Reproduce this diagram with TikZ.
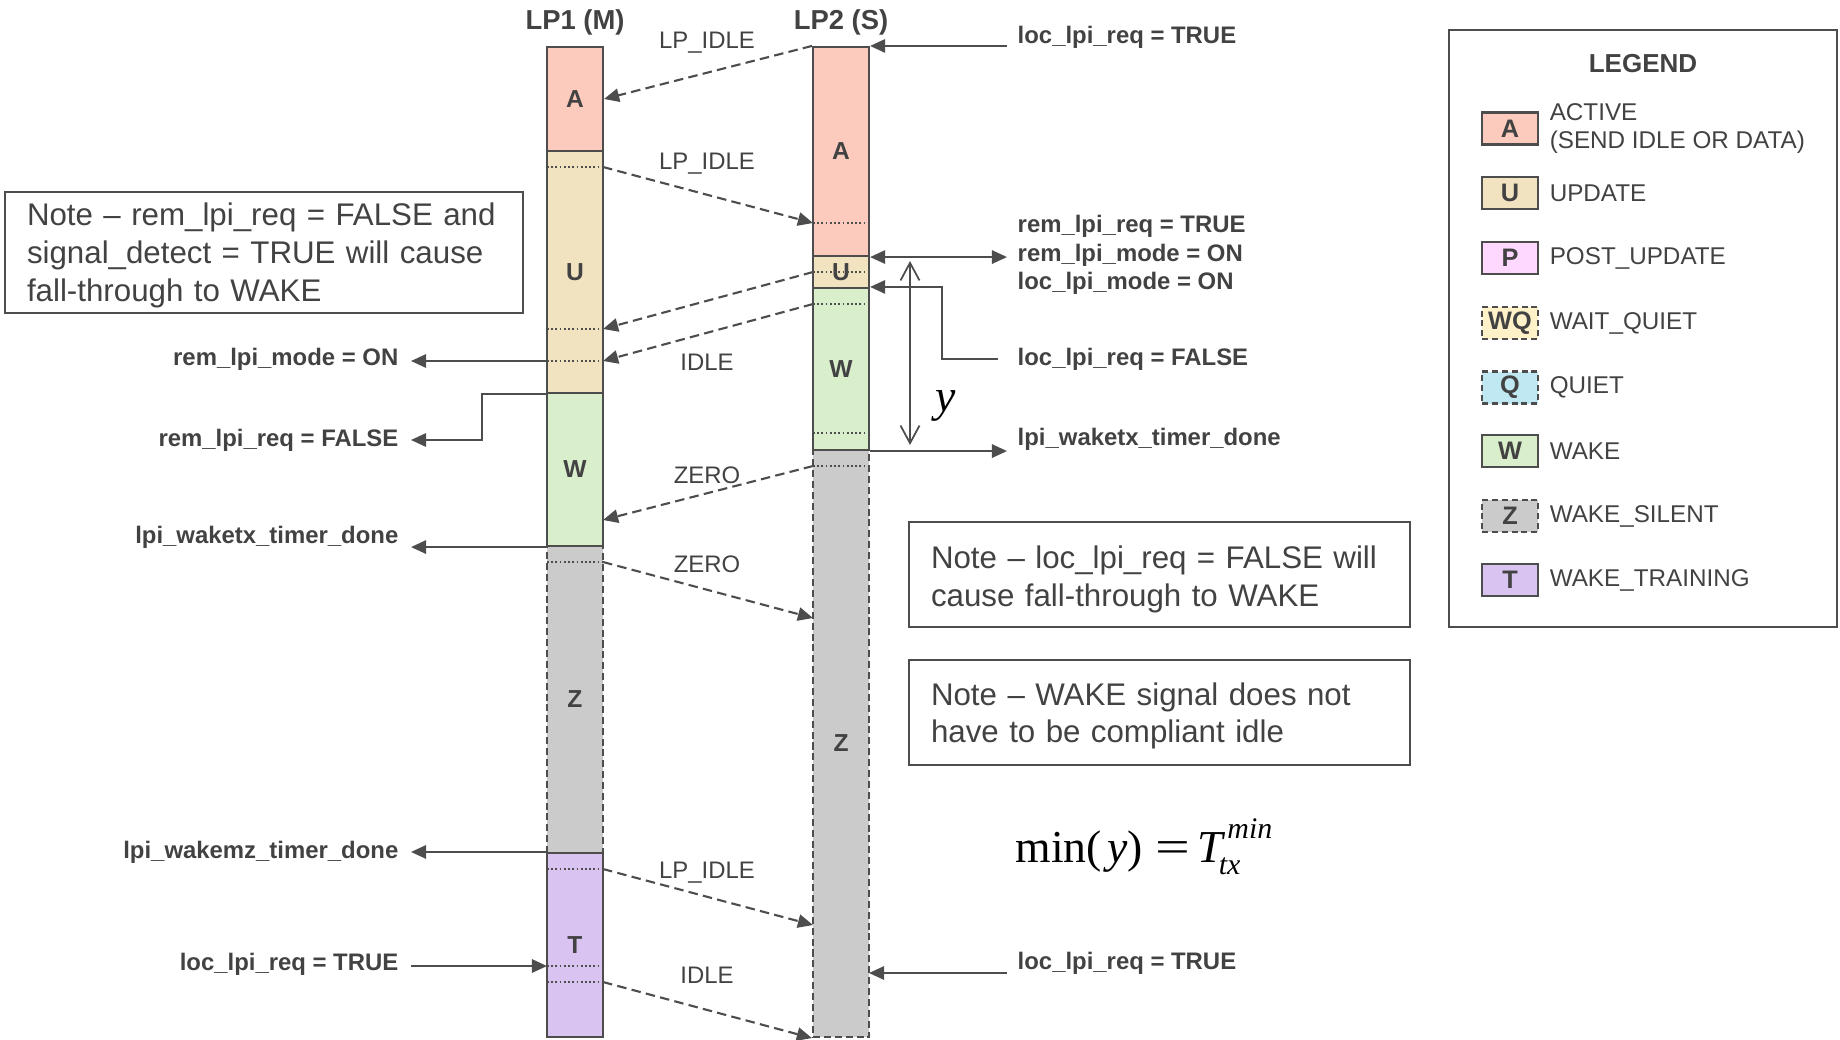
\documentclass[tikz,border=0pt]{standalone}
\usepackage{fontspec}
\setmainfont{Liberation Sans}
\newfontfamily\timesfont{Liberation Serif}
\usetikzlibrary{positioning,arrows.meta,calc}
\usepackage{xcolor}
\definecolor{ink}{RGB}{77,77,77}
\definecolor{txt}{RGB}{66,66,66}
\definecolor{stA}{RGB}{252,203,189}
\definecolor{stU}{RGB}{242,227,192}
\definecolor{stP}{RGB}{255,216,255}
\definecolor{stWQ}{RGB}{255,242,200}
\definecolor{stQ}{RGB}{192,232,242}
\definecolor{stW}{RGB}{217,239,204}
\definecolor{stZ}{RGB}{203,203,203}
\definecolor{stT}{RGB}{216,195,241}
\tikzset{
  seg/.style     = {draw=ink, line width=0.6pt, minimum width=0.56cm, inner sep=0pt,
                    text=txt, font=\fontsize{7}{8}\selectfont\bfseries},
  segq/.style    = {seg, dash pattern=on 2pt off 1.1pt},
  swatch/.style  = {draw=ink, line width=0.6pt, minimum width=0.56cm, minimum height=0.32cm,
                    inner sep=0pt, text=txt, font=\fontsize{7.2}{8}\selectfont\bfseries},
  swatchq/.style = {swatch, dash pattern=on 1.7pt off 1.1pt},
  keytxt/.style  = {inner sep=0pt, text=txt, align=left, font=\fontsize{6.9}{8.2}\selectfont},
  dotline/.style = {draw=ink, line width=0.35pt, dash pattern=on 0.5pt off 0.7pt},
  msg/.style     = {draw=ink, line width=0.6pt, dash pattern=on 2.7pt off 1.5pt,
                    -{Triangle[length=4.3pt,width=3.8pt]}},
  sig/.style     = {draw=ink, line width=0.6pt, -{Triangle[length=4.3pt,width=3.8pt]}},
  sigboth/.style = {sig, {Triangle[length=4.3pt,width=3.8pt]}-{Triangle[length=4.3pt,width=3.8pt]}},
  dimline/.style = {draw=ink, line width=0.5pt,
                    {Straight Barb[length=5pt,width=5.4pt]}-{Straight Barb[length=5pt,width=5.4pt]}},
  msglbl/.style  = {inner sep=0pt, text=txt, font=\fontsize{6.8}{8}\selectfont},
  sigl/.style    = {anchor=east, inner ysep=0pt, inner xsep=0.12cm, text=txt,
                    font=\fontsize{6.8}{8}\selectfont\bfseries},
  sigr/.style    = {anchor=west, inner ysep=0pt, inner xsep=0.1cm, text=txt, align=left,
                    font=\fontsize{6.8}{8.1}\selectfont\bfseries},
  colhead/.style = {inner sep=0pt, text=txt, font=\fontsize{7.8}{9}\selectfont\bfseries},
  notebox/.style = {draw=ink, line width=0.6pt, inner xsep=0.22cm, inner ysep=0pt,
                    align=left, text=txt}
}
% one state of a lane: name, x, top, bottom, style, letter
\newcommand{\stseg}[6]{%
  \pgfmathsetmacro{\segmid}{(#3+#4)/2}%
  \pgfmathsetmacro{\seglen}{#4-#3}%
  \node[#5, minimum height=\seglen cm] (#1) at (#2,\segmid) {#6};}
\newcommand{\scrtxt}[1]{{\fontsize{8.5}{9}\selectfont\itshape #1}}

\begin{document}
\begin{tikzpicture}[x=1cm,y=-1cm]
\useasboundingbox (0,0) rectangle (18.40,10.39);

% --- lane headings --------------------------------------------------------
\node[colhead] (lp1) at (5.75,0.225) {LP1 (M)};
\node[colhead] (lp2) at (8.41,0.225) {LP2 (S)};

% --- LP1 states (dashed ones first, solid edges stay on top) --------------
\stseg{z1}{5.75}{5.46}{8.53}{segq, fill=stZ}{Z}
\stseg{a1}{5.75}{0.47}{1.51}{seg, fill=stA}{A}
\stseg{u1}{5.75}{1.51}{3.93}{seg, fill=stU}{U}
\stseg{w1}{5.75}{3.93}{5.46}{seg, fill=stW}{W}
\stseg{t1}{5.75}{8.53}{10.37}{seg, fill=stT}{T}

% --- LP2 states -----------------------------------------------------------
\stseg{z2}{8.41}{4.50}{10.37}{segq, fill=stZ}{Z}
\stseg{a2}{8.41}{0.47}{2.56}{seg, fill=stA}{A}
\stseg{u2}{8.41}{2.56}{2.88}{seg, fill=stU}{U}
\stseg{w2}{8.41}{2.88}{4.50}{seg, fill=stW}{W}

% --- dotted instants inside the lanes -------------------------------------
\draw[dotline] (5.47,1.67) coordinate (u1al) -- (6.03,1.67) coordinate (u1a);
\draw[dotline] (5.47,3.29) coordinate (u1bl) -- (6.03,3.29) coordinate (u1b);
\draw[dotline] (5.47,3.61) coordinate (u1cl) -- (6.03,3.61) coordinate (u1c);
\draw[dotline] (5.47,5.62) coordinate (z1al) -- (6.03,5.62) coordinate (z1a);
\draw[dotline] (5.47,8.69) coordinate (t1al) -- (6.03,8.69) coordinate (t1a);
\draw[dotline] (5.47,9.66) coordinate (t1bl) -- (6.03,9.66) coordinate (t1b);
\draw[dotline] (5.47,9.82) coordinate (t1cl) -- (6.03,9.82) coordinate (t1c);
\draw[dotline] (8.13,2.23) coordinate (a2al) -- (8.69,2.23);
\draw[dotline] (8.13,2.72) coordinate (u2al) -- (8.69,2.72);
\draw[dotline] (8.13,3.04) coordinate (w2al) -- (8.69,3.04);
\draw[dotline] (8.13,4.33) coordinate (w2bl) -- (8.69,4.33);
\draw[dotline] (8.13,4.66) coordinate (z2al) -- (8.69,4.66);

% --- what goes over the wire ----------------------------------------------
\coordinate (w1c) at (6.03,5.20);
\coordinate (z2b) at (8.13,6.18);
\coordinate (z2d) at (8.13,9.25);
\draw[msg] (a2.north west) -- (a1.east);
\draw[msg] (u1a) -- (a2al);
\draw[msg] (u2al) -- (u1b);
\draw[msg] (w2al) -- (u1c);
\draw[msg] (z2al) -- (w1c);
\draw[msg] (z1a) -- (z2b);
\draw[msg] (t1a) -- (z2d);
\draw[msg] (t1c) -- (z2.south west);

\node[msglbl] (m1) at (7.07,0.43) {LP\_IDLE};
\node[msglbl] (m2) at (7.07,1.64) {LP\_IDLE};
\node[msglbl] (m3) at (7.07,3.62) {IDLE};
\node[msglbl] (m4) at (7.07,4.75) {ZERO};
\node[msglbl] (m5) at (7.07,5.64) {ZERO};
\node[msglbl] (m6) at (7.07,8.73) {LP\_IDLE};
\node[msglbl] (m7) at (7.07,9.75) {IDLE};

% --- LP1 signals ----------------------------------------------------------
\node[sigl] (rmode1) at (4.11,3.595) {rem\_lpi\_mode = ON};
\node[sigl] (rreq1)  at (4.11,4.40) {rem\_lpi\_req = FALSE};
\node[sigl] (wtx1)   at (4.11,5.37) {lpi\_waketx\_timer\_done};
\node[sigl] (wmz1)   at (4.11,8.52) {lpi\_wakemz\_timer\_done};
\node[sigl] (lreq1)  at (4.11,9.64) {loc\_lpi\_req = TRUE};
\draw[sig] (u1cl) -- (rmode1.east |- u1cl);
\draw[sig] (u1.south west) -- ++(-0.64,0) |- (rreq1.east);
\draw[sig] (w1.south west) -- (wtx1.east |- w1.south west);
\draw[sig] (t1.north west) -- (wmz1.east |- t1.north west);
\draw[sig] (lreq1.east |- t1bl) -- (t1bl);

% --- LP2 signals ----------------------------------------------------------
\node[sigr] (lreq2)  at (10.07,0.37) {loc\_lpi\_req = TRUE};
\node[sigr] (remgrp) at (10.07,2.55) {rem\_lpi\_req = TRUE\\rem\_lpi\_mode = ON\\loc\_lpi\_mode = ON};
\node[sigr] (lfalse) at (10.07,3.59) {loc\_lpi\_req = FALSE};
\node[sigr] (wtx2)   at (10.07,4.395) {lpi\_waketx\_timer\_done};
\node[sigr] (lreq2b) at (10.07,9.63) {loc\_lpi\_req = TRUE};
\coordinate (z2c) at (8.69,9.73);
\draw[sig] (lreq2.west |- a2.north east) -- (a2.north east);
\draw[sigboth] (a2.south east) -- (remgrp.west |- a2.south east);
\draw[sig] ([xshift=-0.09cm]lfalse.west) -- ++(-0.56,0) |- (w2.north east);
\draw[sig] (w2.south east) -- (wtx2.west |- w2.south east);
\draw[sig] (lreq2b.west |- z2c) -- (z2c);

% --- the y interval -------------------------------------------------------
\coordinate (ytop) at (9.10,2.61);
\coordinate (ybot) at (9.10,4.45);
\draw[dimline] (ytop) -- (ybot);
\node[anchor=base, inner sep=0pt, font=\fontsize{13}{15}\timesfont\itshape] (ylbl) at (9.46,4.11) {y};

% --- notes ----------------------------------------------------------------
\node[notebox, text width=4.74cm, minimum height=1.21cm, font=\fontsize{8.9}{10.85}\selectfont]
     (note1) at (2.64,2.525)
     {\rule{0pt}{0.29cm}Note – rem\_lpi\_req = FALSE and\\signal\_detect = TRUE will cause\\fall-through to WAKE};
\node[notebox, text width=4.57cm, minimum height=1.05cm, font=\fontsize{8.9}{10.65}\selectfont]
     (note2) at (11.595,5.745)
     {\rule{0pt}{0.325cm}Note – loc\_lpi\_req = FALSE will\\cause fall-through to WAKE};
\node[notebox, text width=4.57cm, minimum height=1.05cm, font=\fontsize{8.9}{10.65}\selectfont]
     (note3) at (11.595,7.125)
     {\rule{0pt}{0.30cm}Note – WAKE signal does not\\have to be compliant idle};
\node[anchor=base west, inner sep=0pt, font=\fontsize{13}{15}\timesfont] (tmin) at (10.15,8.62)
     {min(\hspace{0.05cm}\textit{y})\hspace{0.13cm}\scalebox{1.35}[1]{=}\hspace{0.07cm}\textit{T}\rlap{\hspace{0.02cm}\raisebox{0.24cm}{\scrtxt{min}}}\hspace{-0.065cm}\raisebox{-0.12cm}{\scrtxt{tx}}};

% --- legend ---------------------------------------------------------------
\node[notebox, minimum width=3.88cm, minimum height=5.97cm] (legend) at (16.43,3.285) {};
\node[colhead, font=\fontsize{7.4}{9}\selectfont\bfseries] (legtitle) at (16.43,0.64) {LEGEND};
\node[swatch,  fill=stA]  (keyA)  at (15.10,1.285) {A};
\node[swatch,  fill=stU]  (keyU)  at (15.10,1.93) {U};
\node[swatch,  fill=stP]  (keyP)  at (15.10,2.58) {P};
\node[swatchq, fill=stWQ] (keyWQ) at (15.10,3.23) {WQ};
\node[swatchq, fill=stQ]  (keyQ)  at (15.10,3.875) {Q};
\node[swatch,  fill=stW]  (keyW)  at (15.10,4.51) {W};
\node[swatchq, fill=stZ]  (keyZ)  at (15.10,5.16) {Z};
\node[swatch,  fill=stT]  (keyT)  at (15.10,5.80) {T};
\node[keytxt, right=0.1cm of keyA]  (keyAt)  {ACTIVE\\(SEND IDLE OR DATA)};
\node[keytxt, right=0.1cm of keyU]  (keyUt)  {UPDATE};
\node[keytxt, right=0.1cm of keyP]  (keyPt)  {POST\_UPDATE};
\node[keytxt, right=0.1cm of keyWQ] (keyWQt) {WAIT\_QUIET};
\node[keytxt, right=0.1cm of keyQ]  (keyQt)  {QUIET};
\node[keytxt, right=0.1cm of keyW]  (keyWt)  {WAKE};
\node[keytxt, right=0.1cm of keyZ]  (keyZt)  {WAKE\_SILENT};
\node[keytxt, right=0.1cm of keyT]  (keyTt)  {WAKE\_TRAINING};

\end{tikzpicture}
\end{document}
